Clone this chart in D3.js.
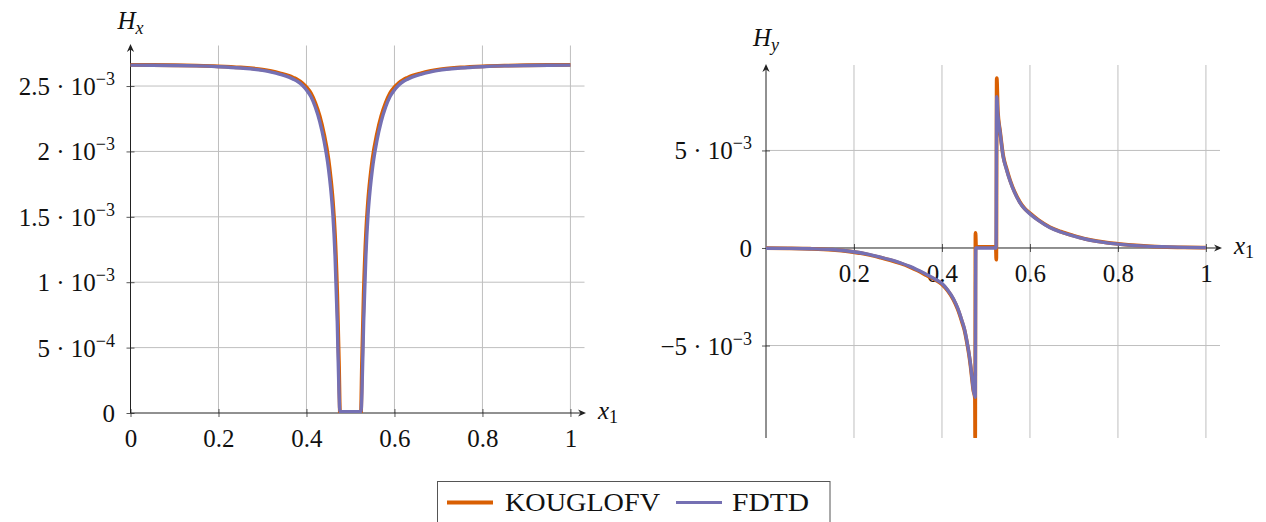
<!DOCTYPE html>
<html><head><meta charset="utf-8">
<script src="https://cdn.jsdelivr.net/npm/d3@7"></script>
<style>
body{margin:0;background:#fff}
svg{display:block}
svg text{font-family:"Liberation Serif","Times New Roman",serif !important;fill:#111}
</style>
</head><body>
<svg id="c" width="1266" height="522" font-family="Liberation Serif, serif"></svg>
<script>
// ---------- data (field values in units of 1e-3) ----------
const UNIT = 1e-3;
const seriesNames  = ["KOUGLOFV", "FDTD"];
const seriesColors = ["#d95f02", "#7570b3"];

const hxX_kouglofv = [0,0.05,0.1,0.15,0.2,0.25,0.3,0.32,0.34,0.36,0.37,0.38,0.39,0.4,0.41,0.42,0.43,0.44,0.45,0.455,0.46,0.465,0.47,0.474,
  0.4765,0.478,0.5,0.522,0.5235,
  0.526,0.53,0.535,0.54,0.545,0.55,0.56,0.57,0.58,0.59,0.6,0.61,0.62,0.63,0.64,0.66,0.68,0.7,0.75,0.8,0.85,0.9,0.95,1];
const hxY_kouglofv = [2.662,2.661,2.659,2.656,2.651,2.642,2.626,2.614,2.598,2.578,2.564,2.548,2.524,2.490,2.445,2.370,2.270,2.130,1.940,1.800,1.620,1.350,0.900,0.350,
  -0.030,0.000,0.000,0.000,-0.030,
  0.350,0.900,1.350,1.620,1.800,1.940,2.130,2.270,2.370,2.445,2.490,2.524,2.548,2.564,2.578,2.598,2.614,2.626,2.642,2.651,2.656,2.659,2.661,2.662];

const hxX_fdtd = [0,0.05,0.1,0.15,0.2,0.25,0.3,0.32,0.34,0.36,0.37,0.38,0.39,0.4,0.41,0.42,0.43,0.44,0.45,0.455,0.46,0.465,0.47,0.474,
  0.476,0.5,0.524,
  0.526,0.53,0.535,0.54,0.545,0.55,0.56,0.57,0.58,0.59,0.6,0.61,0.62,0.63,0.64,0.66,0.68,0.7,0.75,0.8,0.85,0.9,0.95,1];
const hxY_fdtd = [2.660,2.659,2.657,2.654,2.648,2.638,2.620,2.607,2.590,2.568,2.553,2.535,2.508,2.470,2.420,2.340,2.230,2.080,1.870,1.720,1.520,1.200,0.700,0.150,
  0.010,0.010,0.010,
  0.150,0.700,1.200,1.520,1.720,1.870,2.080,2.230,2.340,2.420,2.470,2.508,2.535,2.553,2.568,2.590,2.607,2.620,2.638,2.648,2.654,2.657,2.659,2.660];

const hyX_kouglofv = [0,0.05,0.1,0.15,0.19,0.236,0.26,0.282,0.305,0.327,0.345,0.365,0.385,0.4,0.413,0.426,0.436,0.445,0.451,0.456,0.461,0.465,0.468,0.471,0.475,
  0.4755,0.4762,0.4775,0.5,0.5225,0.5235,0.5245,
  0.527,0.532,0.539,0.547,0.555,0.565,0.577,0.588,0.6,0.62,0.645,0.67,0.698,0.725,0.752,0.775,0.8,0.85,0.9,0.95,1];
const hyY_kouglofv = [-0.01,-0.02,-0.04,-0.09,-0.18,-0.36,-0.49,-0.62,-0.78,-0.97,-1.16,-1.40,-1.64,-1.86,-2.19,-2.65,-3.15,-3.75,-4.2,-4.75,-5.4,-6.05,-6.65,-7.25,-7.7,
  -9.74,0.77,0.05,0.05,0.05,-0.6,8.7,
  7.0,6.0,4.75,4.05,3.46,2.88,2.36,2.02,1.78,1.42,1.07,0.84,0.64,0.47,0.35,0.27,0.21,0.12,0.06,0.03,0.02];

const hyX_fdtd = [0,0.05,0.1,0.15,0.19,0.236,0.26,0.282,0.305,0.327,0.345,0.365,0.385,0.4,0.413,0.426,0.436,0.445,0.451,0.456,0.461,0.465,0.468,0.471,0.4755,
  0.477,0.5,0.523,
  0.5245,0.527,0.532,0.539,0.547,0.555,0.565,0.577,0.588,0.6,0.62,0.645,0.67,0.698,0.725,0.752,0.775,0.8,0.85,0.9,0.95,1];
const hyY_fdtd = [-0.01,-0.02,-0.04,-0.08,-0.17,-0.34,-0.47,-0.6,-0.76,-0.94,-1.13,-1.36,-1.6,-1.82,-2.15,-2.6,-3.1,-3.7,-4.15,-4.7,-5.35,-6.0,-6.6,-7.2,-7.65,
  0.0,0.0,0.0,
  7.75,6.85,5.95,4.7,4.0,3.42,2.85,2.33,2.0,1.75,1.4,1.05,0.82,0.62,0.46,0.34,0.26,0.2,0.11,0.06,0.03,0.02];

// ticks
const hxXTicks = [0,0.2,0.4,0.6,0.8,1];
const hxXTickLabels = ["0","0.2","0.4","0.6","0.8","1"];
const hxYTicks = [0,5e-4,1e-3,1.5e-3,2e-3,2.5e-3];
const hxYTickMant = ["0","5","1","1.5","2","2.5"];
const hxYTickExp  = [null,"\u22124","\u22123","\u22123","\u22123","\u22123"];

const hyXTicks = [0.2,0.4,0.6,0.8,1];
const hyXTickLabels = ["0.2","0.4","0.6","0.8","1"];
const hyYTicks = [-5e-3,0,5e-3];
const hyYTickMant = ["\u22125","0","5"];
const hyYTickExp  = ["\u22123",null,"\u22123"];

// ---------- drawing ----------
const SERIF = "Liberation Serif, Times New Roman, serif";
const svg = d3.select("#c");
svg.append("rect").attr("width",1266).attr("height",522).attr("fill","#fff");

const FS = 25, SUP = 18;
const GRID = "#bfbfbf", AX = "#222";

function arrowRight(g, x, y){
  g.append("path").attr("d",`M${x},${y} L${x-8},${y-3.6} L${x-5.5},${y} L${x-8},${y+3.6} Z`).attr("fill",AX);
}
function arrowUp(g, x, y){
  g.append("path").attr("d",`M${x},${y} L${x-3.6},${y+8} L${x},${y+5.5} L${x+3.6},${y+8} Z`).attr("fill",AX);
}

function panel(c){
  const g = svg.append("g");
  const x = d3.scaleLinear().domain(c.xDom).range(c.xRange);
  const y = d3.scaleLinear().domain(c.yDom).range(c.yRange);
  const ax0 = x(0), ay0 = y(0);
  const xr = c.xRange[1], yTop = c.yRange[1], yBot = c.yRange[0];

  // grid
  const grid = g.append("g").attr("stroke",GRID).attr("stroke-width",1);
  grid.selectAll("line.v").data(c.xTicks.filter(d=>d!==0)).join("line")
    .attr("class","v")
    .attr("x1",d=>x(d)).attr("x2",d=>x(d)).attr("y1",yBot).attr("y2",yTop);
  grid.selectAll("line.h").data(c.yTicks.filter(d=>d!==0)).join("line")
    .attr("class","h")
    .attr("x1",ax0).attr("x2",xr).attr("y1",d=>y(d)).attr("y2",d=>y(d));

  // x axis ticks + labels
  const gx = g.append("g").attr("transform",`translate(0,${ay0-4})`)
    .call(d3.axisBottom(x).tickValues(c.xTicks).tickSizeInner(8).tickSizeOuter(0)
      .tickFormat((d,i)=>c.xTickLabels[i]));
  gx.attr("font-family",SERIF).attr("font-size",FS);
  gx.select(".domain").remove();
  gx.selectAll(".tick line").attr("stroke","#444").attr("stroke-width",0.9);
  gx.selectAll(".tick text").attr("y",4+c.xLabelDy).attr("dy",0)
    .attr("font-size",FS).attr("font-family",SERIF).attr("fill","#111");

  // y axis ticks + labels
  const gy = g.append("g").attr("transform",`translate(${ax0+4},0)`)
    .call(d3.axisLeft(y).tickValues(c.yTicks).tickSizeInner(8).tickSizeOuter(0).tickFormat(""));
  gy.attr("font-family",SERIF).attr("font-size",FS);
  gy.select(".domain").remove();
  gy.selectAll(".tick line").attr("stroke","#444").attr("stroke-width",0.9);
  gy.selectAll(".tick text").each(function(d,i){
    const t = d3.select(this).text(null)
      .attr("x",c.yLabelRight-(ax0+4)).attr("dy","0.34em")
      .attr("font-size",FS).attr("font-family",SERIF).attr("fill","#111").attr("text-anchor","end");
    if(c.yTickExp[i]){
      t.append("tspan").text(c.yTickMant[i]+" \u00b7 10");
      t.append("tspan").attr("font-size",SUP).attr("dy",-10).text(c.yTickExp[i]);
    } else {
      t.append("tspan").text(c.yTickMant[i]);
    }
  });

  // axis lines
  g.append("line").attr("x1",ax0).attr("x2",c.xArrow-2).attr("y1",ay0).attr("y2",ay0)
    .attr("stroke",AX).attr("stroke-width",1);
  arrowRight(g, c.xArrow, ay0);
  g.append("line").attr("x1",ax0).attr("x2",ax0).attr("y1",yBot).attr("y2",c.yArrow+2)
    .attr("stroke",AX).attr("stroke-width",1);
  arrowUp(g, ax0, c.yArrow);

  // axis labels
  const ly = g.append("text").attr("x",ax0).attr("y",c.yArrow-c.yNameGap)
    .attr("text-anchor","middle").attr("font-size",FS).attr("font-family",SERIF);
  ly.append("tspan").attr("font-style","italic").text("H");
  ly.append("tspan").attr("font-style","italic").attr("font-size",SUP).attr("dy",5).text(c.yNameSub);
  const lx = g.append("text").attr("x",c.xArrow+c.xNameGap).attr("y",ay0+6)
    .attr("font-size",FS).attr("font-family",SERIF);
  lx.append("tspan").attr("font-style","italic").text("x");
  lx.append("tspan").attr("font-size",SUP).attr("dy",4).text("1");

  // curves
  const clipId = "clip"+c.id;
  svg.append("clipPath").attr("id",clipId).append("rect")
    .attr("x",ax0-10).attr("y",yTop-5).attr("width",xr-ax0+20).attr("height",yBot-yTop+5);
  const line = d3.line().x(p=>x(p[0])).y(p=>y(p[1]*UNIT)).curve(d3.curveMonotoneX);
  const cg = g.append("g").attr("clip-path",`url(#${clipId})`);
  c.series.forEach((s,k)=>{
    cg.append("path").datum(d3.zip(s.x,s.y)).attr("d",line)
      .attr("fill","none").attr("stroke",seriesColors[k]).attr("stroke-width",s.w)
      .attr("stroke-linejoin","round");
  });
}

panel({
  id:"L", xDom:[0,1.032], xRange:[130.5,584.5], yDom:[0,2.81e-3], yRange:[413,45.5],
  xTicks:hxXTicks, xTickLabels:hxXTickLabels, yTicks:hxYTicks, yTickMant:hxYTickMant, yTickExp:hxYTickExp,
  xLabelDy:34, yLabelRight:115, xArrow:586, yArrow:44, yNameGap:15, xNameGap:12, yNameSub:"x",
  series:[{x:hxX_kouglofv,y:hxY_kouglofv,w:3.8},{x:hxX_fdtd,y:hxY_fdtd,w:3.4}]
});
panel({
  id:"R", xDom:[0,1.032], xRange:[766,1220], yDom:[-9.74e-3,9.38e-3], yRange:[438,65],
  xTicks:hyXTicks, xTickLabels:hyXTickLabels, yTicks:hyYTicks, yTickMant:hyYTickMant, yTickExp:hyYTickExp,
  xLabelDy:34, yLabelRight:752, xArrow:1222, yArrow:64, yNameGap:18, xNameGap:12, yNameSub:"y",
  series:[{x:hyX_kouglofv,y:hyY_kouglofv,w:3.8},{x:hyX_fdtd,y:hyY_fdtd,w:3.4}]
});

// legend
const lg = svg.append("g");
lg.append("rect").attr("x",437.5).attr("y",481.5).attr("width",392.5).attr("height",60)
  .attr("fill","#fff").attr("stroke","#555").attr("stroke-width",1);
const legX = [447, 676], legTextX = [505, 732], legTextLen = [155, 77], legW = [4, 3.2];
seriesNames.forEach((n,k)=>{
  lg.append("line").attr("x1",legX[k]).attr("x2",legX[k]+46).attr("y1",502.5).attr("y2",502.5)
    .attr("stroke",seriesColors[k]).attr("stroke-width",legW[k]);
  lg.append("text").attr("x",legTextX[k]).attr("y",510.5).attr("font-size",26).attr("font-family",SERIF)
    .attr("textLength",legTextLen[k]).attr("lengthAdjust","spacingAndGlyphs").text(n);
});
</script>
</body></html>
